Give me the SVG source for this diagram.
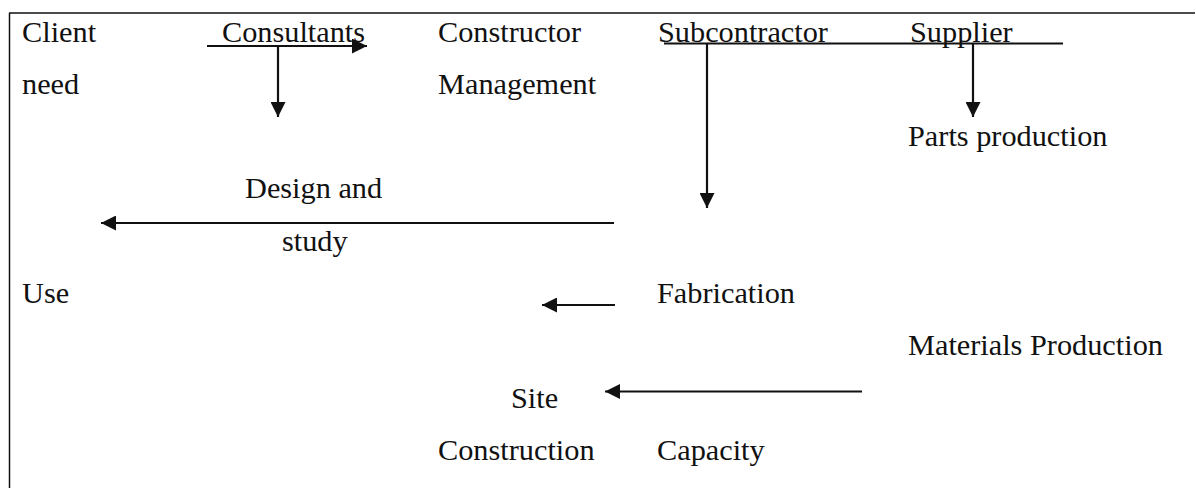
<svg xmlns="http://www.w3.org/2000/svg" width="1196" height="488" viewBox="0 0 1196 488">
<style>
text{font-family:"Liberation Serif","Times New Roman",serif;font-size:30.3px;fill:#111}
.c{stroke:#111;stroke-width:2.2;fill:none}
.f{stroke:#111;stroke-width:1.5;fill:none}
</style>
<defs>
<marker id="ah" markerUnits="userSpaceOnUse" markerWidth="16" markerHeight="15" refX="15" refY="7.5" orient="auto">
<path d="M0,0 L15,7.5 L0,15 z" fill="#111"/>
</marker>
</defs>
<rect width="1196" height="488" fill="#fff"/>
<g id="frame">
<line class="f" x1="9" y1="13" x2="1195" y2="13"/>
<line class="f" x1="9.5" y1="13" x2="9.5" y2="488"/>
</g>
<g id="connectors">
<line class="c" x1="207" y1="46" x2="367" y2="46" marker-end="url(#ah)"/>
<line class="c" x1="278" y1="46" x2="278" y2="117" marker-end="url(#ah)"/>
<line class="c" x1="664" y1="43.5" x2="1063" y2="43.5"/>
<line class="c" x1="707" y1="43.5" x2="707" y2="208" marker-end="url(#ah)"/>
<line class="c" x1="973" y1="43.5" x2="973" y2="117" marker-end="url(#ah)"/>
<line class="c" x1="614" y1="223" x2="101" y2="223" marker-end="url(#ah)"/>
<line class="c" x1="615" y1="305" x2="542" y2="305" marker-end="url(#ah)"/>
<line class="c" x1="862" y1="391.5" x2="605" y2="391.5" marker-end="url(#ah)"/>
</g>
<g id="client"><text x="22" y="41.5">Client</text><text x="22" y="93.8">need</text></g>
<g id="consultants"><text x="222" y="41.5">Consultants</text></g>
<g id="constructor"><text x="438" y="41.5">Constructor</text><text x="438" y="93.8">Management</text></g>
<g id="subcontractor"><text x="658" y="41.5">Subcontractor</text></g>
<g id="supplier"><text x="910" y="41.5">Supplier</text></g>
<g id="parts"><text x="908" y="146.1">Parts production</text></g>
<g id="design"><text x="245" y="198.4">Design and</text><text x="282" y="250.7">study</text></g>
<g id="use"><text x="22" y="303">Use</text></g>
<g id="fabrication"><text x="657" y="303">Fabrication</text></g>
<g id="materials"><text x="908" y="355.3">Materials Production</text></g>
<g id="site"><text x="511" y="407.6">Site</text><text x="438" y="459.9">Construction</text></g>
<g id="capacity"><text x="657" y="459.9">Capacity</text></g>
</svg>
